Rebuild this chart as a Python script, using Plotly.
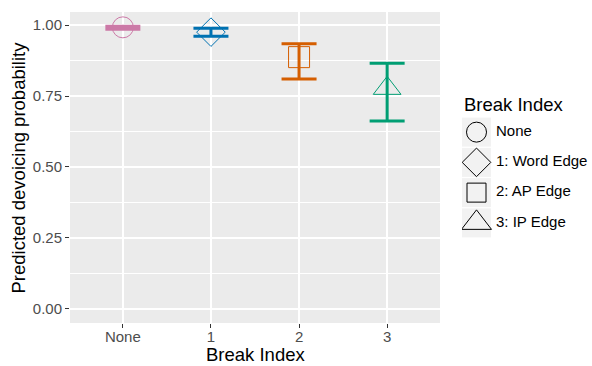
import plotly.graph_objects as go

categories = ["None", "1", "2", "3"]
legend_labels = ["None", "1: Word Edge", "2: AP Edge", "3: IP Edge"]
estimate = [0.992, 0.975, 0.887, 0.777]
lower = [0.985, 0.961, 0.810, 0.662]
upper = [0.996, 0.989, 0.934, 0.865]
colors = ["#CC79A7", "#0072B2", "#D55E00", "#009E73"]
symbols = ["circle-open", "diamond-open", "square-open", "triangle-up-open"]
plot_sizes = [21, 22, 21, 24]
legend_sizes = [20, 22, 19, 26]

W, H = 592, 366
px0, px1, py0, py1 = 70, 440, 12, 323

fig = go.Figure()
for i, c in enumerate(categories):
    fig.add_trace(go.Scatter(
        x=[c], y=[estimate[i]], mode="markers",
        marker=dict(symbol=symbols[i], size=plot_sizes[i], color=colors[i],
                    line=dict(width=1, color=colors[i])),
        error_y=dict(type="data", symmetric=False,
                     array=[upper[i] - estimate[i]],
                     arrayminus=[estimate[i] - lower[i]],
                     color=colors[i], thickness=3, width=17.5),
        showlegend=False, xaxis="x", yaxis="y"))

# legend drawn on a helper axis
fig.add_trace(go.Scatter(
    x=[14.5] * len(legend_labels), y=legend_labels, mode="markers",
    marker=dict(symbol="square", size=29, color="#F2F2F2"),
    showlegend=False, hoverinfo="skip", xaxis="x2", yaxis="y2"))
for i, lab in enumerate(legend_labels):
    fig.add_trace(go.Scatter(
        x=[14.5], y=[lab], mode="markers",
        marker=dict(symbol=symbols[i], size=legend_sizes[i], color="black",
                    line=dict(width=1, color="black")),
        showlegend=False, xaxis="x2", yaxis="y2"))
fig.add_trace(go.Scatter(
    x=[34] * len(legend_labels), y=legend_labels, mode="text",
    text=legend_labels, textposition="middle right",
    textfont=dict(size=15, color="black"),
    showlegend=False, xaxis="x2", yaxis="y2"))

fig.update_layout(
    width=W, height=H,
    margin=dict(l=0, r=0, t=0, b=0),
    paper_bgcolor="white", plot_bgcolor="rgba(0,0,0,0)",
    font=dict(family="Liberation Sans, Arial, sans-serif"),
    shapes=[dict(type="rect", xref="x domain", yref="y domain", x0=0, x1=1, y0=0, y1=1,
                 fillcolor="#EBEBEB", line=dict(width=0), layer="below")],
    xaxis=dict(domain=[px0 / W, px1 / W], type="category",
               categoryorder="array", categoryarray=categories,
               range=[-0.6, 3.6], showgrid=True, gridcolor="white", gridwidth=1.5,
               zeroline=False, ticks="outside", ticklen=4, tickcolor="#333333",
               tickfont=dict(size=15, color="#4D4D4D"), ticklabelstandoff=-4,
               anchor="y"),
    yaxis=dict(domain=[1 - py1 / H, 1 - py0 / H], range=[-0.0497, 1.046],
               tickvals=[0, 0.25, 0.5, 0.75, 1.0], tickformat=".2f",
               showgrid=True, gridcolor="white", gridwidth=1.5,
               minor=dict(dtick=0.125, showgrid=True, gridcolor="white", gridwidth=0.7),
               zeroline=False, ticks="outside", ticklen=4, tickcolor="#333333",
               tickfont=dict(size=15, color="#4D4D4D"),
               anchor="x"),
    xaxis2=dict(domain=[462 / W, 1.0], range=[0, 130], visible=False, anchor="y2",
                fixedrange=True),
    yaxis2=dict(domain=[1 - 238 / H, 1 - 117 / H], type="category",
                categoryorder="array", categoryarray=legend_labels[::-1],
                range=[-0.5, 3.5], visible=False, anchor="x2", fixedrange=True),
    annotations=[
        dict(text="Break Index", x=462 / W, y=1 - 104 / H,
             xref="paper", yref="paper", xanchor="left", yanchor="middle",
             showarrow=False, font=dict(size=18.5, color="black")),
        dict(text="Break Index", x=(px0 + px1) / 2 / W, y=0,
             xref="paper", yref="paper", xanchor="center", yanchor="bottom",
             borderpad=0, showarrow=False, font=dict(size=18.5, color="black")),
        dict(text="Predicted devoicing probability", x=18 / W, y=1 - (py0 + py1) / 2 / H,
             xref="paper", yref="paper", xanchor="center", yanchor="middle",
             textangle=-90, showarrow=False, font=dict(size=18.5, color="black")),
    ],
)

fig.write_html("out.html", config={"displayModeBar": False},
               post_script="document.body.style.margin='0';")
